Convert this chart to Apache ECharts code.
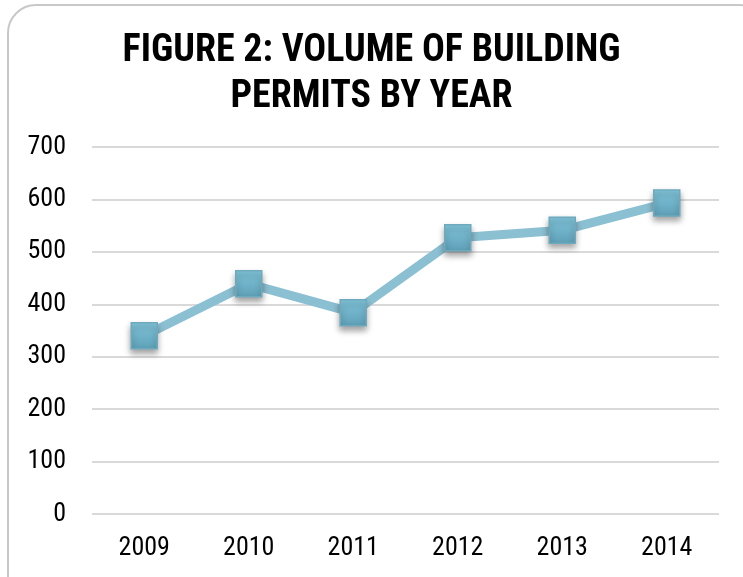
<!DOCTYPE html>
<html><head><meta charset="utf-8">
<script src="https://cdn.jsdelivr.net/npm/echarts@6/dist/echarts.min.js"></script>
<style>html,body{margin:0;padding:0;background:#fff}#c{width:743px;height:577px}</style>
</head><body><div id="c"></div>
<script>
const categories = ['2009','2010','2011','2012','2013','2014'];
const permits = [340, 439, 384, 527, 541, 593];
const yTicks = [0,100,200,300,400,500,600,700];

const chart = echarts.init(document.getElementById('c'));
const font = '"Roboto Condensed", "Liberation Sans Narrow", sans-serif';
chart.setOption({
  animation: false,
  backgroundColor: '#fff',
  graphic: [{
    type: 'rect', z: -1, silent: true,
    shape: { x: 8, y: 5, width: 760, height: 600, r: 28 },
    style: { fill: '#fff', stroke: '#c8c8c8', lineWidth: 2 }
  }],
  title: {
    text: 'FIGURE 2: VOLUME OF BUILDING\nPERMITS BY YEAR',
    left: 'center', top: 23,
    textStyle: { fontFamily: font, fontWeight: 'bold', fontSize: 38, lineHeight: 46, color: '#000' }
  },
  grid: { left: 92, right: 24, top: 147, bottom: 63 },
  xAxis: {
    type: 'category', data: categories, boundaryGap: true,
    axisLine: { show: false }, axisTick: { show: false },
    axisLabel: { fontFamily: font, fontSize: 26, color: '#000', margin: 21 }
  },
  yAxis: {
    type: 'value', min: yTicks[0], max: yTicks[yTicks.length-1], interval: 100,
    axisLine: { show: false }, axisTick: { show: false },
    axisLabel: { fontFamily: font, fontSize: 26, color: '#000', margin: 26 },
    splitLine: { lineStyle: { color: '#d9d9d9', width: 2 } }
  },
  series: [{
    type: 'line', data: permits,
    lineStyle: { color: '#8bbfd2', width: 9 },
    symbol: 'rect', symbolSize: 26,
    itemStyle: {
      color: new echarts.graphic.LinearGradient(0,0,0,1,[{offset:0,color:'#82c6dc'},{offset:1,color:'#5e9fb6'}]),
      borderColor: '#6ea9bd', borderWidth: 1.5,
      shadowColor: 'rgba(0,0,0,0.35)', shadowBlur: 6, shadowOffsetY: 4
    }
  }]
});
</script></body></html>
